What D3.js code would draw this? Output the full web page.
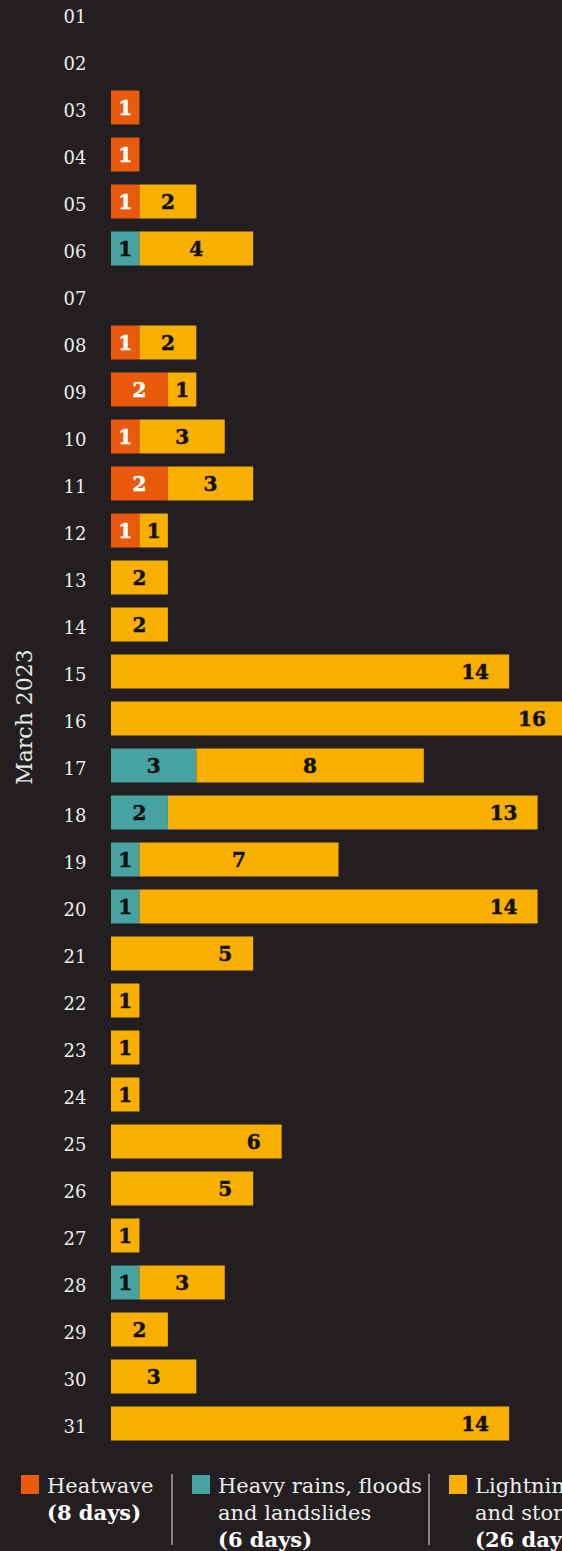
<!DOCTYPE html>
<html>
<head>
<meta charset="utf-8">
<script src="https://cdn.jsdelivr.net/npm/d3@7"></script>
<style>
  html, body { margin: 0; padding: 0; background: #231f20; overflow: hidden; }
  svg { display: block; }
</style>
</head>
<body>
<div id="chart"></div>
<script>
// ---- data ----
const dates = ["01","02","03","04","05","06","07","08","09","10","11","12","13","14","15","16",
               "17","18","19","20","21","22","23","24","25","26","27","28","29","30","31"];
const heatwave  = [0,0,1,1,1,0,0,1,2,1,2,1,0,0,0,0,0,0,0,0,0,0,0,0,0,0,0,0,0,0,0];
const rains     = [0,0,0,0,0,1,0,0,0,0,0,0,0,0,0,0,3,2,1,1,0,0,0,0,0,0,0,1,0,0,0];
const lightning = [0,0,0,0,2,4,0,2,1,3,3,1,2,2,14,16,8,13,7,14,5,1,1,1,6,5,1,3,2,3,14];
const seriesKeys   = ["heatwave", "rains", "lightning"];
const legendLines  = [["Heatwave"], ["Heavy rains, floods", "and landslides"], ["Lightning", "and storms"]];
const axisTitle    = "March 2023";

// ---- styles ----
const W = 562, H = 1551;
const colors = { heatwave: "#e95a0c", rains: "#46a3a2", lightning: "#f8af00" };
const labelColors = { heatwave: "#ffffff", rains: "#111111", lightning: "#111111" };
const serif = "'DejaVu Serif', serif";

const rows = dates.map((d, i) => ({ date: d, heatwave: heatwave[i], rains: rains[i], lightning: lightning[i] }));
const stacked = d3.stack().keys(seriesKeys)(rows);

const svg = d3.select("#chart").append("svg").attr("width", W).attr("height", H);
svg.append("rect").attr("width", W).attr("height", H).attr("fill", "#231f20");

const x = d3.scaleLinear().domain([0, 16]).range([111, 566]);
const y = d3.scaleBand().domain(dates).range([-10, 1447]).paddingInner(13 / 47).paddingOuter(13 / 94);

// date labels (y axis)
const yAxis = d3.axisLeft(y).tickSize(0).tickPadding(0);
const gy = svg.append("g").attr("transform", "translate(86,0)").call(yAxis);
gy.select(".domain").remove();
gy.selectAll("text")
  .attr("x", -11).attr("dy", "0.5em").attr("text-anchor", "middle")
  .attr("fill", "#ececec").style("font-family", serif).style("font-size", "18px");

// axis title
svg.append("text")
  .attr("transform", "translate(32,717) rotate(-90)")
  .attr("text-anchor", "middle")
  .attr("fill", "#e6e6e6").style("font-family", serif).style("font-size", "22px")
  .text(axisTitle);

// bars
const layers = svg.append("g").selectAll("g").data(stacked).join("g")
  .attr("fill", s => colors[s.key]);
layers.selectAll("rect").data(s => s.filter(d => d[1] > d[0])).join("rect")
  .attr("x", d => x(d[0]))
  .attr("width", d => x(d[1]) - x(d[0]))
  .attr("y", d => y(d.data.date))
  .attr("height", y.bandwidth());

// value labels
function labelX(d) {
  const v = d[1] - d[0];
  if (v >= 10) return x(d[1]) - 34;
  if (d[0] === 0 && v >= 5) return x(d[1]) - 28;
  return (x(d[0]) + x(d[1])) / 2;
}
svg.append("g").selectAll("g").data(stacked).join("g")
  .attr("fill", s => labelColors[s.key])
  .each(function(s) {
    d3.select(this).selectAll("text").data(s.filter(d => d[1] > d[0])).join("text")
      .attr("x", labelX)
      .attr("y", d => y(d.data.date) + y.bandwidth() / 2)
      .attr("dy", "0.37em")
      .attr("text-anchor", "middle")
      .attr("stroke", s.key === "heatwave" ? "#ffffff" : "#111111").attr("stroke-width", 0.5)
      .style("font-family", serif).style("font-weight", "bold").style("font-size", "20px")
      .text(d => d[1] - d[0]);
  });

// legend
const dayCounts = { heatwave: heatwave.filter(v => v > 0).length,
                    rains: rains.filter(v => v > 0).length,
                    lightning: lightning.filter(v => v > 0).length };
const legendX = [21, 192, 449];
const leg = svg.append("g");
seriesKeys.forEach((k, i) => {
  const g = leg.append("g").attr("transform", `translate(${legendX[i]},1475)`);
  g.append("rect").attr("width", 18).attr("height", 19).attr("fill", colors[k]);
  const lines = legendLines[i];
  lines.forEach((t, j) => {
    g.append("text").attr("x", 26).attr("y", 18 + j * 27)
      .attr("fill", "#ececec").style("font-family", serif).style("font-size", "21px")
      .text(t);
  });
  g.append("text").attr("x", 26).attr("y", 18 + lines.length * 27)
    .attr("fill", "#ffffff").style("font-family", serif).style("font-weight", "bold").style("font-size", "21px")
    .text(`(${dayCounts[k]} days)`);
  if (i > 0) {
    leg.append("line").attr("x1", legendX[i] - 20).attr("x2", legendX[i] - 20)
      .attr("y1", 1474).attr("y2", 1545).attr("stroke", "#e6e6e6").attr("stroke-width", 1);
  }
});
</script>
</body>
</html>
